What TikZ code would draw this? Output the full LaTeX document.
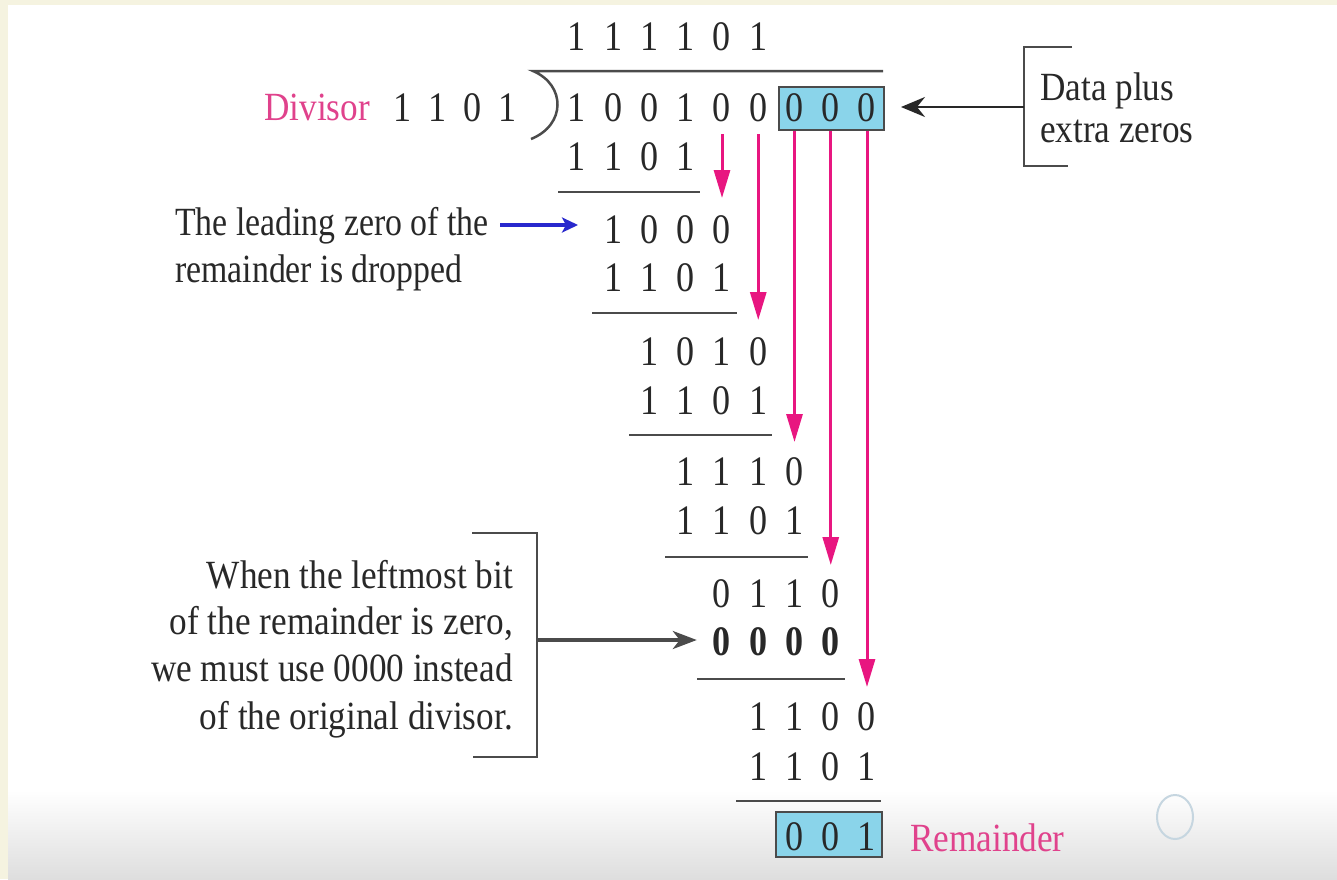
\documentclass[tikz,border=0pt]{standalone}
\usepackage{fontspec}
\setmainfont{Liberation Serif}[FakeStretch=0.88]
\newfontfamily\narrowfont{Liberation Serif}[FakeStretch=0.845]
\newfontfamily\digitfont{Liberation Serif}[FakeStretch=0.86]
\usetikzlibrary{arrows.meta,calc}
\definecolor{cream}{RGB}{245,243,224}
\definecolor{pinkln}{RGB}{232,22,128}
\definecolor{pinktx}{RGB}{224,66,140}
\definecolor{boxblue}{RGB}{138,212,234}
\definecolor{arrblue}{RGB}{40,40,205}
\definecolor{ink}{RGB}{40,40,40}
\definecolor{rulec}{RGB}{75,75,75}
\definecolor{greyend}{RGB}{222,222,222}
\definecolor{ringc}{RGB}{198,214,224}
\newcommand{\bitrow}[5][bit]{%
  \foreach \dd [count=\ii] in {#5}{%
    \node[#1] (#2-\ii) at ({577+(#4+\ii-2)*36.25},#3) {\dd};}}
\begin{document}
\begin{tikzpicture}[x=1pt,y=-1pt,
  bit/.style={inner sep=0pt, font=\fontsize{42}{44}\digitfont, text=ink},
  bitb/.style={bit, font=\fontsize{42}{44}\digitfont\bfseries},
  note/.style={inner sep=0pt, font=\fontsize{40}{46}\selectfont, text=ink},
  leadnote/.style={note, font=\fontsize{40}{46}\narrowfont},
  rulel/.style={draw=rulec, line width=2.5pt},
  brk/.style={draw=rulec, line width=2.5pt},
  hbox/.style={draw=rulec, line width=2pt, fill=boxblue, inner sep=0pt},
  pinkarr/.style={draw=pinkln, line width=3pt, -{Triangle[length=28pt,width=16pt]}},
  blkarr/.style={draw=ink, line width=2.5pt, -{Stealth[length=24pt,width=20pt,inset=8pt]}},
  blkarrb/.style={draw=rulec, line width=3.5pt, -{Stealth[length=24pt,width=18pt,inset=7pt]}},
  bluearr/.style={draw=arrblue, line width=4pt, -{Stealth[length=16pt,width=15pt,inset=4pt]}}
]
% background
\fill[cream] (0,0) rectangle (1337,879);
\fill[white] (8,5) rectangle (1337,879);
\shade[top color=white, bottom color=greyend] (8,790) rectangle (1337,879);
\useasboundingbox (0,0) rectangle (1337,879);
\draw[ringc, line width=2pt] (1175,817) ellipse [x radius=18pt, y radius=22pt];

% boxes (behind digits)
\node[hbox, minimum width=105pt, minimum height=43pt] (dbox) at (831.5,108.5) {};
\node[hbox, minimum width=106pt, minimum height=45pt] (rbox) at (829,834) {};

% quotient and dividend
\bitrow{q}{37}{1}{1,1,1,1,0,1}
\bitrow{dv}{108}{1}{1,0,0,1,0,0,0,0,0}
\foreach \dd [count=\ii] in {1,1,0,1}{\node[bit] (dr-\ii) at ({403+(\ii-1)*35},108) {\dd};}
\node[note, text=pinktx, anchor=base west] (divl) at (264,120) {Divisor};

% division bracket
\coordinate (vs) at (533,71);
\coordinate (ve) at (883,71);
\coordinate (pe) at (531,139);
\draw[rulel] (ve) -- (vs) .. controls (566,85) and (566,125) .. (pe);

% steps
\bitrow{s1}{157}{1}{1,1,0,1}
\bitrow{r1}{230}{2}{1,0,0,0}
\bitrow{s2}{278}{2}{1,1,0,1}
\bitrow{r2}{352}{3}{1,0,1,0}
\bitrow{s3}{401}{3}{1,1,0,1}
\bitrow{r3}{472}{4}{1,1,1,0}
\bitrow{s4}{521}{4}{1,1,0,1}
\bitrow{r4}{594}{5}{0,1,1,0}
\bitrow[bitb]{s5}{642}{5}{0,0,0,0}
\bitrow{r5}{717}{6}{1,1,0,0}
\bitrow{s6}{767}{6}{1,1,0,1}
\bitrow{rem}{837}{7}{0,0,1}
\node[note, text=pinktx, anchor=base west] (reml) at (910,851) {Remainder};

% subtraction rules
\draw[rulel] (558,192) -- (700,192);
\draw[rulel] (592,313) -- (737,313);
\draw[rulel] (629,435) -- (772,435);
\draw[rulel] (665,557) -- (808,557);
\draw[rulel] (697,679) -- (845,679);
\draw[rulel] (736,801) -- (881,801);

% pink bring-down arrows
\draw[pinkarr] ($(dv-5)+(0,26)$) -- ($(r1-4)+(0,-32)$);
\draw[pinkarr] ($(dv-6)+(0,26)$) -- ($(r2-4)+(0,-32)$);
\draw[pinkarr] (dbox.south -| dv-7) -- ($(r3-4)+(0,-30)$);
\draw[pinkarr] (dbox.south -| dv-8) -- ($(r4-4)+(0,-29)$);
\draw[pinkarr] (dbox.south -| dv-9) -- ($(r5-4)+(0,-30)$);

% data plus extra zeros
\draw[brk] (1072,47) -- (1024,47) -- (1024,166) -- (1068,166);
\coordinate (da) at (1024,107);
\draw[blkarr, shorten >=16pt] (da) -- (da -| dbox.east);
\node[note, anchor=base west] (dp1) at (1040,100) {Data plus};
\node[note, anchor=base west] (dp2) at (1040,142) {extra zeros};

% leading zero note
\node[leadnote, anchor=base west] (ld1) at (175,235) {The leading zero of the};
\node[leadnote, anchor=base west] (ld2) at (175,282) {remainder is dropped};
\coordinate (ba) at (500,225);
\draw[bluearr, shorten >=26pt] (ba) -- (ba -| r1-1.west);

% leftmost bit note
\node[note, anchor=base east] (w1) at (513,588) {When the leftmost bit};
\node[note, anchor=base east] (w2) at (513,634) {of the remainder is zero,};
\node[note, anchor=base east] (w3) at (513,681) {we must use 0000 instead};
\node[note, anchor=base east] (w4) at (513,729) {of the original divisor.};
\draw[brk] (472,533) -- (537,533) -- (537,757) -- (473,757);
\coordinate (wa) at (537,640);
\draw[blkarrb, shorten >=16pt] (wa) -- (wa -| s5-1.west);
\end{tikzpicture}
\end{document}
